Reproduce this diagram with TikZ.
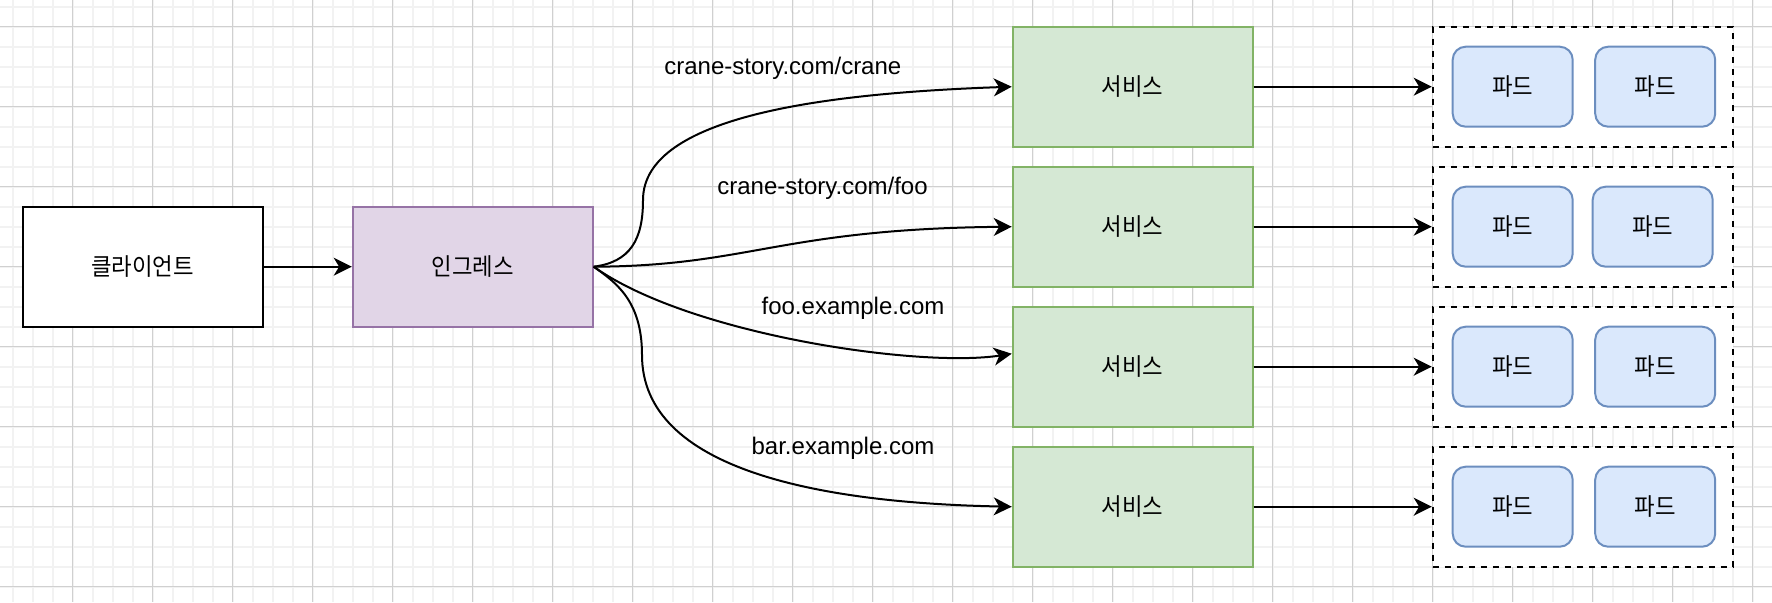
\documentclass[tikz,border=0pt]{standalone}
\usepackage{fontspec}
\setmainfont{Liberation Sans}
\newfontfamily\kr[FakeStretch=0.93]{Noto Sans CJK KR}
\usetikzlibrary{arrows.meta}
\definecolor{gridmin}{HTML}{F2F2F2}
\definecolor{gridmaj}{HTML}{D0D0D0}
\definecolor{ingfill}{HTML}{E1D5E7}
\definecolor{ingline}{HTML}{9673A6}
\definecolor{svcfill}{HTML}{D5E8D4}
\definecolor{svcline}{HTML}{82B366}
\definecolor{podfill}{HTML}{DAE8FC}
\definecolor{podline}{HTML}{6C8EBF}

\begin{document}
\begin{tikzpicture}[x=0.5pt,y=-0.5pt,>={Stealth[length=9pt,width=9pt,inset=2.7pt]},
  box/.style={draw,fill=white,line width=1pt,minimum width=120pt,minimum height=60pt,inner sep=0pt,font=\kr\fontsize{12}{14}\selectfont},
  svcbox/.style={box,fill=svcfill,draw=svcline},
  podbox/.style={box,fill=podfill,draw=podline,rounded corners=6.5pt,minimum width=60pt,minimum height=40pt},
  podgroup/.style={draw,fill=white,line width=1pt,dash pattern=on 3pt off 3pt,minimum width=150pt,minimum height=60pt},
  route/.style={font=\fontsize{12}{14}\selectfont},
  link/.style={->,line width=1pt}]
\useasboundingbox (0,0) rectangle (1772,602);
\clip (0,0) rectangle (1772,602);
\fill[white] (0,0) rectangle (1772,602);
\foreach \x in {12.7,32.7,...,1772}
    \draw[gridmin,line width=0.8pt] (\x,0)--(\x,602);
\foreach \y in {6.7,26.7,...,602}
    \draw[gridmin,line width=0.8pt] (0,\y)--(1772,\y);
\foreach \x in {72.7,152.7,...,1772}
    \draw[gridmaj,line width=0.5pt] (\x,0)--(\x,602);
\foreach \y in {26.7,106.7,...,602}
    \draw[gridmaj,line width=0.5pt] (0,\y)--(1772,\y);

\node[box] (client) at (142.7,266.7) {클라이언트};
\node[box,fill=ingfill,draw=ingline] (ingress) at (472.7,266.7) {인그레스};
\draw[link] (client) -- (ingress);

\foreach \k/\y/\pb in {1/86.7/1655.2,2/226.7/1652.7,3/366.7/1655.2,4/506.7/1655.2}{
    \node[svcbox] (svc\k) at (1132.7,\y) {서비스};
    \node[podgroup] (grp\k) at (1582.7,\y) {};
    \node[podbox] (poda\k) at (1512.7,\y) {파드};
    \node[podbox] (podb\k) at (\pb,\y) {파드};
    \draw[link] (svc\k) -- (grp\k);
}

\draw[link] (ingress.east) .. controls (630,262) and (643,240) .. (643,200)
    .. controls (643,115) and (830,93) .. (svc1.west);
\draw[link] (ingress.east) .. controls (750,266) and (780,229) .. (svc2.west);
\draw[link] (ingress.east) .. controls (690,335) and (920,368) .. ([yshift=6.5pt]svc3.west);
\draw[link] (ingress.east) .. controls (615,282) and (642,300) .. (642,355)
    .. controls (642,470) and (820,503) .. (svc4.west);

\node[route] (lcrane) at (782.8,68.3) {crane-story.com/crane};
\node[route] (lfoo) at (822.5,188.3) {crane-story.com/foo};
\node[route] (lfooex) at (853,308.3) {foo.example.com};
\node[route] (lbar) at (843,448.3) {bar.example.com};
\end{tikzpicture}
\end{document}
